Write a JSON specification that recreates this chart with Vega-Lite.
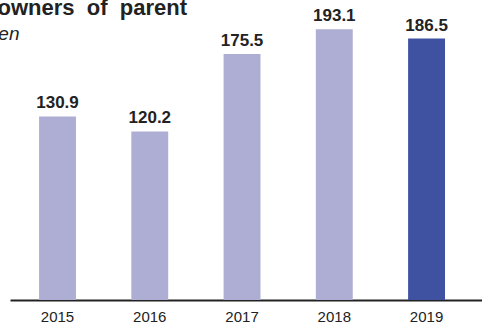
{
  "$schema": "https://vega.github.io/schema/vega-lite/v6.json",
  "width": 472,
  "height": 300,
  "padding": {"left": 10, "top": 0, "right": 0, "bottom": 25},
  "autosize": {"type": "none"},
  "background": "white",
  "config": {"font": "Liberation Sans", "view": {"stroke": null}},
  "title": {
    "text": "Net income attributable to owners\u00a0\u00a0of\u00a0\u00a0parent",
    "anchor": "start",
    "frame": "group",
    "align": "right",
    "dx": 177,
    "dy": 20,
    "offset": 0,
    "font": "Liberation Sans",
    "fontSize": 22,
    "fontWeight": "bold",
    "color": "#222222"
  },
  "data": {
    "values": [
      {"year": "2015", "value": 130.9},
      {"year": "2016", "value": 120.2},
      {"year": "2017", "value": 175.5},
      {"year": "2018", "value": 193.1},
      {"year": "2019", "value": 186.5}
    ]
  },
  "encoding": {
    "x": {
      "field": "year",
      "type": "nominal",
      "sort": null,
      "scale": {"paddingInner": 0.6, "paddingOuter": 0.358, "align": 0.44},
      "axis": {
        "title": null,
        "labelAngle": 0,
        "ticks": false,
        "domain": true,
        "domainColor": "#222222",
        "domainWidth": 2,
        "labelFont": "Liberation Sans",
        "labelFontSize": 15,
        "labelColor": "#222222",
        "labelPadding": 9
      }
    },
    "y": {
      "field": "value",
      "type": "quantitative",
      "scale": {"domain": [0, 214]},
      "axis": {
        "title": "Billions of yen",
        "titleAngle": 0,
        "titleAlign": "right",
        "titleBaseline": "alphabetic",
        "titleX": 9,
        "titleY": 39,
        "titleFont": "Liberation Sans",
        "titleFontSize": 19,
        "titleFontStyle": "italic",
        "titleFontWeight": "normal",
        "titleColor": "#222222",
        "labels": false,
        "ticks": false,
        "domain": false,
        "grid": false
      }
    }
  },
  "layer": [
    {
      "mark": {"type": "bar"},
      "encoding": {
        "color": {
          "condition": {"test": "datum.year === '2019'", "value": "#3F52A2"},
          "value": "#AEAED5"
        }
      }
    },
    {
      "mark": {
        "type": "text",
        "baseline": "bottom",
        "dy": -4,
        "font": "Liberation Sans",
        "fontSize": 17,
        "fontWeight": "bold",
        "color": "#222222"
      },
      "encoding": {
        "text": {"field": "value", "type": "quantitative", "format": ".1f"}
      }
    }
  ]
}
